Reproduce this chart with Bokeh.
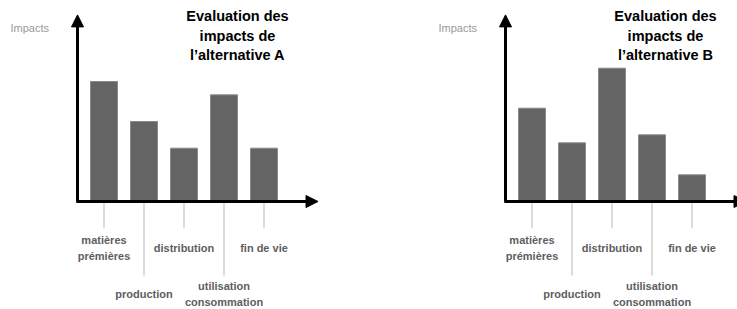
from bokeh.plotting import figure
from bokeh.layouts import row
from bokeh.models import Arrow, NormalHead
from bokeh.core.properties import value
from bokeh.embed import file_html
from bokeh.resources import INLINE

categories = ["matières\nprémières", "production", "distribution",
              "utilisation\nconsommation", "fin de vie"]
values_a = [9, 6, 4, 8, 4]
values_b = [7, 4.4, 10, 5, 2]
title_a = "Evaluation des\nimpacts de\nl’alternative A"
title_b = "Evaluation des\nimpacts de\nl’alternative B"
y_label = "Impacts"

FONT = value("Liberation Sans")
UNIT_Y = 13.33  # px per impact unit
BASE_Y = 201.0  # baseline in figure px from top
H = 309


def make_chart(vals, title, x0_px, width):
    # x0_px: figure px position of x = 0 (bar centres at 1..5, 40 px apart)
    xs = list(range(1, len(vals) + 1))
    x_start = -x0_px / 40.0
    x_end = (width - x0_px) / 40.0
    y_start = (BASE_Y - H) / UNIT_Y
    y_end = BASE_Y / UNIT_Y
    p = figure(width=width, height=H, x_range=(x_start, x_end), y_range=(y_start, y_end),
               output_backend="svg", toolbar_location=None,
               x_axis_location=None, y_axis_location=None, min_border=0)
    p.outline_line_color = None
    p.grid.visible = False
    p.background_fill_color = "white"
    p.border_fill_color = "white"

    # tick lines below the axis
    ends = [-2.0 if i % 2 == 0 else -5.55 for i in range(len(vals))]
    p.segment(x0=xs, y0=[0] * len(xs), x1=xs, y1=ends, line_color="#c4c4c4", line_width=1.2)

    p.vbar(x=xs, top=vals, bottom=0, width=0.675, fill_color="#646464",
           line_color="#8a8a8a", line_width=1)

    ax_x = 0.3375
    p.add_layout(Arrow(x_start=ax_x, y_start=0, x_end=ax_x, y_end=14.0, line_width=3,
                       line_color="black",
                       end=NormalHead(size=12, fill_color="black", line_color="black", line_width=1)))
    p.add_layout(Arrow(x_start=ax_x - 0.03, y_start=0, x_end=6.35, y_end=0, line_width=3,
                       line_color="black",
                       end=NormalHead(size=12, fill_color="black", line_color="black", line_width=1)))

    # category labels, alternating rows
    row1 = [c for i, c in enumerate(categories) if i % 2 == 0]
    row2 = [c for i, c in enumerate(categories) if i % 2 == 1]
    x1 = [x for i, x in enumerate(xs) if i % 2 == 0]
    x2 = [x for i, x in enumerate(xs) if i % 2 == 1]
    for xx, tt, yy in ((x1, row1, -3.5), (x2, row2, -6.95)):
        p.text(x=xx, y=[yy] * len(xx), text=tt, text_align="center", text_baseline="middle",
               text_font=FONT, text_font_size="11px", text_font_style="bold",
               text_color="#5e5e5e", text_line_height=1.35)

    p.text(x=[4.3375], y=[12.45], text=[title], text_align="center", text_baseline="middle",
           text_font=FONT, text_font_size="14.5px", text_font_style="bold",
           text_color="black", text_line_height=1.24)
    p.text(x=[-1.3375], y=[13.05], text=[y_label], text_align="left", text_baseline="middle",
           text_font=FONT, text_font_size="11px", text_color="#9a9a9a")
    return p


pa = make_chart(values_a, title_a, 63.5, 360)
pb = make_chart(values_b, title_b, 491.5 - 360, 377)
layout = row(pa, pb, spacing=0)
open("out.html", "w").write(file_html(layout, INLINE))
